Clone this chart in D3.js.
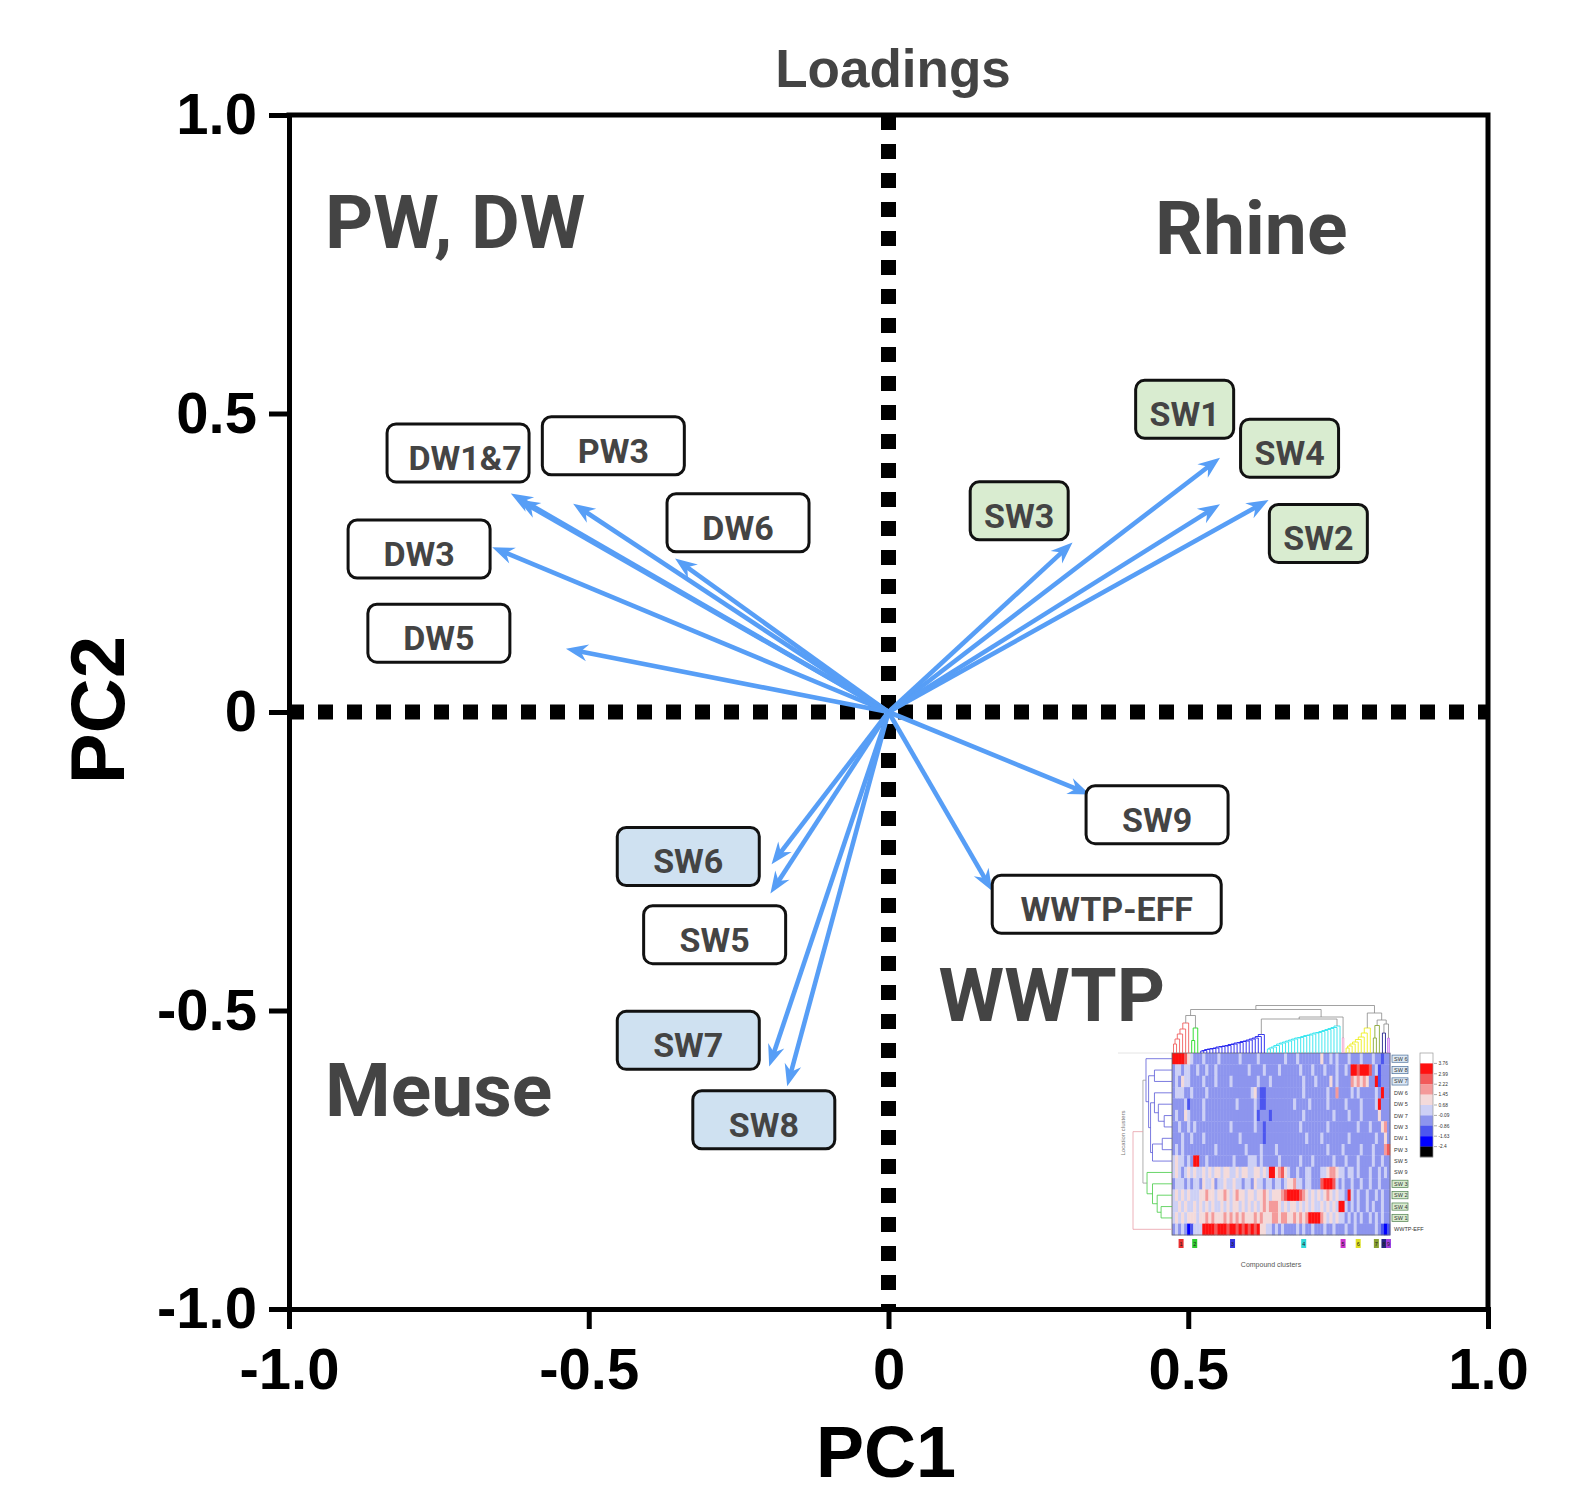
<!DOCTYPE html>
<html><head><meta charset="utf-8">
<script src="https://cdn.jsdelivr.net/npm/d3@7/dist/d3.min.js"></script>
<style>body{margin:0;background:#fff} svg{display:block}</style>
</head><body>
<svg id="chart" width="1591" height="1494"></svg>
<script>
// ---------------- DATA ----------------
const locations = ["DW1","DW7","PW3","DW6","DW3","DW5","SW1","SW2","SW3","SW4","SW5","SW6","SW7","SW8","SW9","WWTP-EFF"];
const pc1 = [-0.630,-0.618,-0.526,-0.356,-0.661,-0.538, 0.553, 0.634, 0.307, 0.553,-0.197,-0.195,-0.199,-0.169, 0.336, 0.173];
const pc2 = [ 0.366, 0.356, 0.349, 0.257, 0.276, 0.106, 0.426, 0.355, 0.284, 0.348,-0.304,-0.255,-0.594,-0.627,-0.138,-0.300];

const boxText  = ["DW1&7","PW3","DW6","DW3","DW5","SW1","SW4","SW3","SW2","SW9","WWTP-EFF","SW6","SW5","SW7","SW8"];
const boxGroup = ["dw","dw","dw","dw","dw","rhine","rhine","rhine","rhine","other","other","meuse","other","meuse","meuse"];
const boxPC1   = [-0.718,-0.459,-0.251,-0.783,-0.750, 0.494, 0.669, 0.218, 0.717, 0.448, 0.364,-0.334,-0.290,-0.334,-0.208];
const boxPC2   = [ 0.434, 0.446, 0.317, 0.273, 0.132, 0.507, 0.442, 0.337, 0.299,-0.172,-0.322,-0.242,-0.373,-0.550,-0.683];

const quadText = ["PW, DW","Rhine","WWTP","Meuse"];
const quadPC1  = [-0.940, 0.4445, 0.0836,-0.940];
const quadPC2  = [ 0.777, 0.768,-0.517,-0.676];

const xTicks = [-1,-0.5,0,0.5,1];
const xTickLabels = ["-1.0","-0.5","0","0.5","1.0"];
const yTicks = [-1,-0.5,0,0.5,1];
const yTickLabels = ["-1.0","-0.5","0","0.5","1.0"];

// heatmap inset (levels 0..9: black, blue, mid blue, lavender, pale lavender, pale pink, salmon, light red, red, white)
const heatRows = ["SW 6","SW 8","SW 7","DW 6","DW 5","DW 7","DW 3","DW 1","PW 3","SW 5","SW 9","SW 3","SW 2","SW 4","SW 1","WWTP-EFF"];
const heatRowBox = ["meuse","meuse","meuse","","","","","","","","","rhine","rhine","rhine","rhine",""];
const heatCells = [
"888875433343333433333343333343333333343334333333353343433343334333433233",
"344344334334334333333333343333433334333333433343334333433438878887342333",
"343544333343334333343333333343334333333333343334333353433336565653382333",
"344433433334333333333333334532233333333333343333333433633334343333343833",
"333342333343333333333433333432233333333343333433333433333433334333348333",
"343354333343333333333333333423332333333333343333333334333343334333335333",
"334334343333333333343333333433233333333333433333333433333333343334333563",
"333433433343333333333343333333233333333333334333343333333343333333343353",
"343433333333334333333333433334333343333333333333333433334333334333433367",
"454434388334333333334333344434333334333333433343333334333433343333433433",
"454345454454545545544545544554548856754334334433344566544344343334334343",
"344434344354453445445443443544344344345564434433378887434334334334334333",
"454545444556554556545655455455654555678888765454545654544384343343343433",
"445454454545454454545545454545656665454554545454454545488434343343433433",
"454545554556565556565656555656555665665565656888865454544343434334343433",
"343431244488887888788787878785544343433334343343334334333433433333343212"
];
const levelColors = ["#000000","#0000ff","#4c56ef","#8d95ee","#cdd0f5","#f4dada","#f49a9a","#f25a5a","#ff1010","#ffffff"];
const legendBreaks = ["3.76","2.99","2.22","1.45","0.68","-0.09","-0.86","-1.63","-2.4"];

const clusterIds    = ["1","2","3","4","5","6","7","8","9"];
const clusterColors = ["#f06060","#22dd22","#2020ee","#30e4ee","#f0a0cc","#eeee22","#88a833","#22228f","#c060ee"];
const clusterMark   = ["#e83030","#30cc30","#3535e0","#30d8d8","#cc33cc","#e0e020","#88a030","#252580","#a040e0"];
const clusterC0 = [0,6,9,31,56,57,66,69,71];
const clusterC1 = [5,8,30,55,56,65,68,70,71];
const clusterInner = [
  [0.18,0.28,0.38,0.48,0.60],
  [0.25,0.50],
  [0.04,0.05,0.07,0.08,0.09,0.10,0.12,0.13,0.14,0.15,0.17,0.18,0.20,0.21,0.23,0.24,0.26,0.28,0.30,0.33,0.37],
  [0.08,0.10,0.12,0.15,0.18,0.20,0.22,0.24,0.26,0.28,0.30,0.31,0.33,0.35,0.36,0.38,0.40,0.41,0.43,0.45,0.47,0.49,0.51,0.54],
  [0.30],
  [0.10,0.14,0.18,0.22,0.27,0.32,0.40,0.50],
  [0.30,0.55],
  [0.40],
  [0.30]
];
const colTree = {h:0.95, ch:[{h:0.87, ch:[{h:0.75, ch:[0,1]}, {h:0.72, ch:[{h:0.68, ch:[2,3]}, 4]}]},
                             {h:0.80, ch:[5, {h:0.66, ch:[6, {h:0.58, ch:[7,8]}]}]}]};
const rowTree = {h:1.0, c:"#e8a0a8", ch:[
  {h:0.745, c:"#9a9a9a", ch:[
    {h:0.667, c:"#5a5ad8", ch:[0, {h:0.60, ch:[{h:0.45, ch:[1,2]}, {h:0.55, ch:[{h:0.45, ch:[3, {h:0.35, ch:[4, {h:0.20, ch:[5,6]}]}]}, {h:0.50, ch:[{h:0.25, ch:[7,8]}, 9]}]}]}]},
    {h:0.64, c:"#44cc44", ch:[10, {h:0.50, ch:[11, {h:0.38, ch:[12, {h:0.28, ch:[13,14]}]}]}]}
  ]}, 15]};

// ---------------- DRAW ----------------
const ARIAL = "'Liberation Sans', Arial, Helvetica, sans-serif";
const ROBOTO = "Roboto, 'Noto Sans', sans-serif";
const svg = d3.select("#chart");
const x = d3.scaleLinear().domain([-1,1]).range([289,1488]);
const y = d3.scaleLinear().domain([-1,1]).range([1309,115]);

// dotted zero lines
svg.append("line").attr("x1",x(-1)).attr("x2",x(1)).attr("y1",y(0)).attr("y2",y(0))
  .attr("stroke","#000").attr("stroke-width",15).attr("stroke-dasharray","15 14");
svg.append("line").attr("x1",x(0)).attr("x2",x(0)).attr("y1",y(1)).attr("y2",y(-1))
  .attr("stroke","#000").attr("stroke-width",15).attr("stroke-dasharray","15 14");

// axes
const yAxis = d3.axisLeft(y).tickValues(yTicks).tickFormat((d,i)=>yTickLabels[i]).tickSize(20).tickSizeOuter(0).tickPadding(12);
const xAxis = d3.axisBottom(x).tickValues(xTicks).tickFormat((d,i)=>xTickLabels[i]).tickSize(20).tickSizeOuter(0).tickPadding(19);
const gy = svg.append("g").attr("transform",`translate(${x(-1)},0)`).call(yAxis);
const gx = svg.append("g").attr("transform",`translate(0,${y(-1)})`).call(xAxis);
[gx,gy].forEach(g=>{
  g.select(".domain").attr("stroke","#000").attr("stroke-width",5).attr("stroke-linecap","square");
  g.selectAll(".tick line").attr("stroke","#000").attr("stroke-width",5);
  g.selectAll(".tick text").attr("font-family",ARIAL).attr("font-weight","bold").attr("font-size",58).attr("fill","#000");
});
// frame top & right
svg.append("path").attr("d",`M${x(-1)},${y(1)}H${x(1)}V${y(-1)}`).attr("fill","none")
  .attr("stroke","#000").attr("stroke-width",5).attr("stroke-linecap","square");

// arrows
const ox = x(0), oy = y(0);
const arrowColor = "#579ef6";
const arrows = svg.append("g");
d3.range(locations.length).forEach(i=>{
  const tx = x(pc1[i]), ty = y(pc2[i]);
  const a = Math.atan2(ty-oy, tx-ox);
  const ca = Math.cos(a), sa = Math.sin(a);
  arrows.append("line").attr("x1",ox).attr("y1",oy).attr("x2",tx-12*ca).attr("y2",ty-12*sa)
    .attr("stroke",arrowColor).attr("stroke-width",4.6);
  const pts = [[0,0],[-22,-8.5],[-15,0],[-22,8.5]].map(([u,v])=>[tx+u*ca-v*sa, ty+u*sa+v*ca]);
  arrows.append("polygon").attr("points",pts.map(p=>p.join(",")).join(" ")).attr("fill",arrowColor);
});

// label boxes
const boxFill = {dw:"#ffffff", other:"#ffffff", rhine:"#d9ecd0", meuse:"#cfe1f1"};
const boxes = svg.append("g");
boxText.forEach((t,i)=>{
  const g = boxes.append("g").attr("transform",`translate(${x(boxPC1[i])},${y(boxPC2[i])})`);
  const w = t==="WWTP-EFF" ? 229 : (boxGroup[i]==="rhine" ? 98 : 142);
  g.append("rect").attr("x",-w/2).attr("y",-29).attr("width",w).attr("height",58).attr("rx",9)
    .attr("fill",boxFill[boxGroup[i]]).attr("stroke","#111").attr("stroke-width",3);
  g.append("text").attr("x", t==="DW1&7" ? 7 : 0).attr("y",17).attr("text-anchor","middle")
    .attr("font-family",ROBOTO).attr("font-weight","bold").attr("font-size",34).attr("fill","#444").text(t);
});

// quadrant labels
quadText.forEach((t,i)=>{
  svg.append("text").attr("x",x(quadPC1[i])).attr("y",y(quadPC2[i]))
    .attr("font-family",ROBOTO).attr("font-weight","bold").attr("font-size",75).attr("fill","#444").text(t);
});

// titles
svg.append("text").attr("x",893).attr("y",87).attr("text-anchor","middle")
  .attr("font-family",ARIAL).attr("font-weight","bold").attr("font-size",53).attr("fill","#444").text("Loadings");
svg.append("text").attr("x",886).attr("y",1477).attr("text-anchor","middle")
  .attr("font-family",ARIAL).attr("font-weight","bold").attr("font-size",72).attr("fill","#000").text("PC1");
svg.append("text").attr("transform","translate(124,710) rotate(-90)").attr("text-anchor","middle")
  .attr("font-family",ARIAL).attr("font-weight","bold").attr("font-size",76).attr("fill","#000").text("PC2");

// ---------------- HEATMAP INSET ----------------
const hm = svg.append("g");
const hmX0 = 1172, hmX1 = 1390, hmY0 = 1053, hmY1 = 1235;
const nCols = heatCells[0].length;
const colX = d3.scaleLinear().domain([0,nCols]).range([hmX0,hmX1]);
const rowY = d3.scaleBand().domain(d3.range(heatRows.length)).range([hmY0,hmY1]);
const cw = colX(1)-colX(0);
hm.append("line").attr("x1",1118).attr("x2",hmX0).attr("y1",hmY0).attr("y2",hmY0).attr("stroke","#e4e4e4").attr("stroke-width",1);
heatCells.forEach((s,r)=>{
  hm.append("g").selectAll("rect").data(s.split("")).join("rect")
    .attr("x",(d,c)=>colX(c)).attr("y",rowY(r)).attr("width",cw+0.4).attr("height",rowY.bandwidth()+0.3)
    .attr("fill",d=>levelColors[+d]);
});
hm.append("rect").attr("x",hmX0).attr("y",hmY0).attr("width",hmX1-hmX0).attr("height",hmY1-hmY0)
  .attr("fill","none").attr("stroke","#666").attr("stroke-width",0.8);

// row labels
heatRows.forEach((t,r)=>{
  const cy = rowY(r)+rowY.bandwidth()/2;
  if (heatRowBox[r]) {
    hm.append("rect").attr("x",hmX1+2).attr("y",cy-3.6).attr("width",16).attr("height",7.2)
      .attr("fill",heatRowBox[r]==="rhine"?"#d9ecd0":"#dde9f5")
      .attr("stroke",heatRowBox[r]==="rhine"?"#4f7f4f":"#4a6e9a").attr("stroke-width",0.7);
  }
  hm.append("text").attr("x",hmX1+4).attr("y",cy+2).attr("font-family",ARIAL).attr("font-size",5.5)
    .attr("fill","#333").text(t);
});

// legend
const legY = d3.scaleBand().domain(d3.range(10)).range([1053,1157]);
d3.range(10).forEach(k=>{
  hm.append("rect").attr("x",1420).attr("y",legY(k)).attr("width",13).attr("height",legY.bandwidth()+0.2)
    .attr("fill",levelColors[9-k]);
});
hm.append("rect").attr("x",1420).attr("y",1053).attr("width",13).attr("height",104).attr("fill","none")
  .attr("stroke","#999").attr("stroke-width",0.7);
legendBreaks.forEach((t,k)=>{
  const yy = legY(k+1);
  hm.append("line").attr("x1",1434).attr("x2",1437).attr("y1",yy).attr("y2",yy).attr("stroke","#555").attr("stroke-width",0.5);
  hm.append("text").attr("x",1438.5).attr("y",yy+1.7).attr("font-family",ARIAL).attr("font-size",4.8).attr("fill","#333").text(t);
});

// top dendrogram
const dY = d3.scaleLinear().domain([0,1]).range([hmY0,1003]);
const clusterTops = [];
clusterIds.forEach((id,k)=>{
  const inner = clusterInner[k];
  const n = inner.length+1;
  const xa = colX(clusterC0[k]), xb = colX(clusterC1[k]+1);
  const step = (xb-xa)/n;
  let cx = xa+step/2, ch = 0, d = `M${cx},${dY(0)}`;
  for (let i=1;i<n;i++){
    const lx = xa+step*(i+0.5);
    const h = Math.max(inner[i-1], ch+0.01);
    d += `M${cx},${dY(ch)}V${dY(h)}H${lx}V${dY(0)}`;
    cx = (cx+lx)/2; ch = h;
  }
  hm.append("path").attr("d",d).attr("fill","none").attr("stroke",clusterColors[k]).attr("stroke-width",0.9);
  clusterTops[k] = {x:cx, h:ch};
});
function drawCol(node){
  if (typeof node === "number") return clusterTops[node];
  const a = drawCol(node.ch[0]), b = drawCol(node.ch[1]);
  hm.append("path").attr("d",`M${a.x},${dY(a.h)}V${dY(node.h)}H${b.x}V${dY(b.h)}`)
    .attr("fill","none").attr("stroke","#8a8a8a").attr("stroke-width",0.8);
  return {x:(a.x+b.x)/2, h:node.h};
}
drawCol(colTree);

// left dendrogram
const hX = d3.scaleLinear().domain([0,1]).range([hmX0,1133]);
function drawRow(node, color){
  if (typeof node === "number") return {y:rowY(node)+rowY.bandwidth()/2, h:0};
  const col = node.c || color;
  const a = drawRow(node.ch[0], col), b = drawRow(node.ch[1], col);
  hm.append("path").attr("d",`M${hX(a.h)},${a.y}H${hX(node.h)}V${b.y}H${hX(b.h)}`)
    .attr("fill","none").attr("stroke",col).attr("stroke-width",0.8);
  return {y:(a.y+b.y)/2, h:node.h};
}
drawRow(rowTree, "#888");

// cluster markers
clusterIds.forEach((id,k)=>{
  const cx = (colX(clusterC0[k])+colX(clusterC1[k]+1))/2;
  hm.append("rect").attr("x",cx-2.5).attr("y",1239).attr("width",5).attr("height",9).attr("fill",clusterMark[k]);
  hm.append("text").attr("x",cx).attr("y",1246).attr("text-anchor","middle").attr("font-family",ARIAL)
    .attr("font-size",5.5).attr("fill","#222").text(id);
});
hm.append("text").attr("x",1271).attr("y",1267).attr("text-anchor","middle").attr("font-family",ARIAL)
  .attr("font-size",7).attr("fill","#555").text("Compound clusters");
hm.append("text").attr("transform","translate(1125,1133) rotate(-90)").attr("text-anchor","middle")
  .attr("font-family",ARIAL).attr("font-size",6).attr("fill","#777").text("Location clusters");
</script>
</body></html>
